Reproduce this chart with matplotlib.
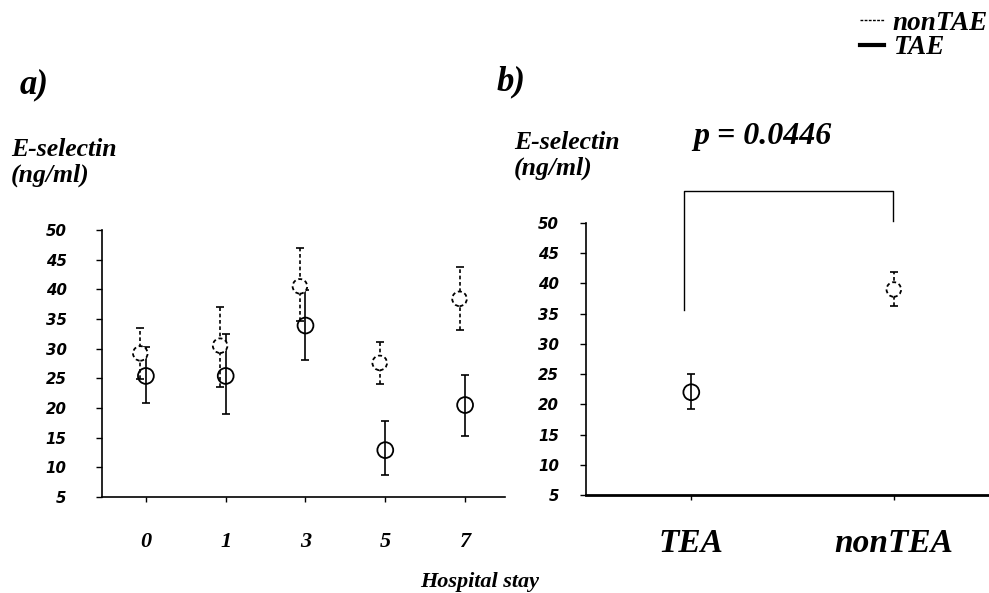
import matplotlib
matplotlib.use("Agg")
import matplotlib.pyplot as plt
from matplotlib.lines import Line2D
import numpy as np

# ---- data (panel a) ----
days = ["0", "1", "3", "5", "7"]
nontae_mean = [29.2, 30.5, 40.5, 27.6, 38.4]
nontae_low = [24.9, 23.6, 34.7, 24.0, 33.1]
nontae_high = [33.4, 37.1, 46.9, 31.2, 43.8]
tae_mean = [25.4, 25.4, 33.9, 12.9, 20.5]
tae_low = [20.9, 19.0, 28.1, 8.7, 15.2]
tae_high = [30.3, 32.4, 39.9, 17.8, 25.6]

# ---- data (panel b) ----
groups = ["TEA", "nonTEA"]
grp_mean = [22.0, 39.0]
grp_low = [19.3, 36.3]
grp_high = [25.0, 41.9]
p_text = "p = 0.0446"

yticks = [5, 10, 15, 20, 25, 30, 35, 40, 45, 50]

W, H = 989, 593
fig = plt.figure(figsize=(W / 100, H / 100), dpi=100)

serif = "Liberation Serif"
def fx(px):
    return px / W
def fy(py):
    return 1 - py / H

dash = (0, (2.2, 1.6))

# ---------- panel a ----------
axa = fig.add_axes([fx(102), fy(497), fx(505) - fx(102), fy(230) - fy(497)])
xa = np.arange(len(days))
off = -0.07
nm = np.array(nontae_mean); tm = np.array(tae_mean)
err_n = [nm - np.array(nontae_low), np.array(nontae_high) - nm]
err_t = [tm - np.array(tae_low), np.array(tae_high) - tm]
eb = axa.errorbar(xa + off, nm, yerr=err_n, fmt="none", ecolor="black",
                  elinewidth=1.2, capsize=3, capthick=1.2)
eb[2][0].set_linestyle(dash)
axa.scatter(xa + off, nm, s=110, facecolors="white", edgecolors="black",
            linewidths=1.3, linestyles=dash, zorder=3)
axa.errorbar(xa, tm, yerr=err_t, fmt="none", ecolor="black",
             elinewidth=1.2, capsize=3, capthick=1.2)
axa.scatter(xa, tm, s=130, facecolors="none", edgecolors="black",
            linewidths=1.3, zorder=4)
axa.set_xlim(-0.55, 4.5)
axa.set_ylim(5, 50)

# ---------- panel b ----------
axb = fig.add_axes([fx(586), fy(495), 1 - fx(586), fy(223) - fy(495)])
xb = np.arange(len(groups))
gm = np.array(grp_mean)
err_g = [gm - np.array(grp_low), np.array(grp_high) - gm]
axb.errorbar(xb[:1], gm[:1], yerr=[err_g[0][:1], err_g[1][:1]], fmt="none",
             ecolor="black", elinewidth=1.2, capsize=3, capthick=1.2)
axb.scatter(xb[:1], gm[:1], s=130, facecolors="none", edgecolors="black",
            linewidths=1.3, zorder=4)
eb2 = axb.errorbar(xb[1:], gm[1:], yerr=[err_g[0][1:], err_g[1][1:]], fmt="none",
                   ecolor="black", elinewidth=1.2, capsize=3, capthick=1.2)
eb2[2][0].set_linestyle(dash)
axb.scatter(xb[1:], gm[1:], s=110, facecolors="white", edgecolors="black",
            linewidths=1.3, linestyles=dash, zorder=3)
axb.set_xlim(-0.52, 1.47)
axb.set_ylim(5, 50)
# significance bracket
axb.plot([-0.034, -0.034, 0.995, 0.995], [35.6, 55.3, 55.3, 50.3],
         color="black", lw=1.0, clip_on=False)

for ax, ypad, xpad in [(axa, 21, 22), (axb, 15, 20)]:
    ax.spines["top"].set_visible(False)
    ax.spines["right"].set_visible(False)
    ax.spines["left"].set_linewidth(1.2)
    ax.spines["bottom"].set_linewidth(1.2)
    ax.set_yticks(yticks)
    ax.set_yticklabels([str(v) for v in yticks], fontfamily="DejaVu Sans",
                       fontweight="bold", fontstyle="italic", fontsize=10.8)
    ax.tick_params(axis="y", direction="out", length=4.5, width=1.0, pad=ypad)
    ax.tick_params(axis="x", direction="out", length=3.5, width=1.0, pad=xpad)

axb.spines["bottom"].set_linewidth(2.0)

axa.set_xticks(xa)
axa.set_xticklabels(days, fontfamily=serif, fontweight="bold",
                    fontstyle="italic", fontsize=16)
axb.set_xticks(xb)
axb.set_xticklabels(groups, fontfamily=serif, fontweight="bold",
                    fontstyle="italic", fontsize=24)

tkw = dict(fontfamily=serif, fontweight="bold", fontstyle="italic")
fig.text(fx(20), fy(85), "a)", fontsize=25, va="center", ha="left", **tkw)
fig.text(fx(497), fy(82), "b)", fontsize=25, va="center", ha="left", **tkw)
fig.text(fx(11), fy(138), "E-selectin\n(ng/ml)", fontsize=18.5, va="top",
         ha="left", linespacing=1.15, **tkw)
fig.text(fx(514), fy(131), "E-selectin\n(ng/ml)", fontsize=18.5, va="top",
         ha="left", linespacing=1.15, **tkw)
fig.text(fx(693), fy(137), p_text, fontsize=23, va="center", ha="left", **tkw)
fig.text(fx(480), fy(582), "Hospital stay", fontsize=16, va="center",
         ha="center", **tkw)

handles = [Line2D([], [], color="black", lw=1.0, ls=(0, (2, 1))),
           Line2D([], [], color="black", lw=3.0)]
fig.legend(handles, ["nonTAE", "TAE"], loc="upper right",
           bbox_to_anchor=(1.018, 1.014), frameon=False, handlelength=0.9,
           handletextpad=0.3, labelspacing=-0.02, borderpad=0.2,
           prop=dict(family=serif, weight="bold", style="italic", size=19.5))

fig.savefig("out.png", dpi=100)
